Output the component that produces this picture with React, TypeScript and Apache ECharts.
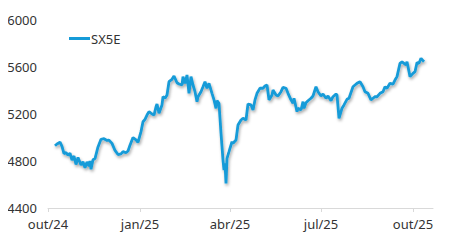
import React, { useEffect, useRef } from "react";
import * as echarts from "echarts";

// days since 2024-10-01
const dayOffsets = [
  7, 9, 12, 14, 16, 18, 20, 22, 24, 26, 28, 30, 33, 35, 37, 39, 41, 42, 43, 45, 47,
  50, 53, 56, 59, 61, 64, 67, 70, 73, 75, 78, 80, 82, 85, 88, 90, 93, 95, 97, 99,
  101, 104, 106, 108, 109, 111, 114, 115, 117, 119, 121, 124, 126, 129, 131, 134,
  135, 137, 139, 141, 143, 145, 147, 149, 150, 153, 155, 157, 159, 161, 164, 166,
  168, 169, 171, 173, 175, 176, 177, 178, 179, 181, 184, 185, 188, 190, 193, 195,
  198, 200, 203, 205, 207, 209, 212, 215, 217, 219, 221, 224, 225, 228, 230, 233,
  235, 238, 240, 243, 245, 246, 249, 250, 253, 255, 256, 258, 260, 263, 265, 268,
  270, 273, 275, 278, 280, 283, 285, 288, 289, 291, 294, 296, 299, 301, 305, 307,
  309, 312, 315, 317, 320, 323, 325, 327, 329, 332, 335, 337, 339, 342, 345, 347,
  349, 352, 354, 356, 358, 359, 362, 365, 367, 369, 371, 373, 375, 376,
];

const sx5eValues = [
  4930, 4945, 4960, 4925, 4862, 4872, 4850, 4866, 4808, 4843, 4770, 4830, 4765, 4794,
  4742, 4792, 4755, 4800, 4730, 4810, 4820, 4920, 4985, 4990, 4975, 4978, 4950, 4890,
  4855, 4860, 4880, 4870, 4885, 4935, 5000, 4980, 4958, 5050, 5134, 5155, 5191, 5220,
  5200, 5191, 5262, 5285, 5206, 5277, 5347, 5334, 5362, 5475, 5495, 5523, 5466, 5455,
  5447, 5518, 5461, 5532, 5376, 5518, 5447, 5390, 5305, 5347, 5390, 5432, 5475, 5419,
  5461, 5376, 5320, 5248, 5313, 5291, 5036, 4808, 4723, 4780, 4610, 4823, 4879, 4964,
  4951, 4979, 5106, 5149, 5163, 5149, 5285, 5277, 5234, 5320, 5376, 5419, 5419, 5438,
  5447, 5320, 5362, 5404, 5362, 5353, 5390, 5427, 5419, 5376, 5320, 5291, 5334, 5220,
  5249, 5234, 5305, 5249, 5296, 5313, 5334, 5353, 5432, 5390, 5353, 5370, 5334, 5353,
  5313, 5347, 5370, 5362, 5163, 5249, 5277, 5325, 5334, 5432, 5447, 5461, 5475, 5432,
  5390, 5376, 5320, 5334, 5347, 5347, 5376, 5390, 5432, 5419, 5461, 5455, 5489, 5518,
  5631, 5645, 5631, 5617, 5645, 5518, 5546, 5560, 5637, 5631, 5674, 5654, 5645,
];

const xTickDays = [0, 92, 182, 273, 365];
const xTickLabels = ["out/24", "jan/25", "abr/25", "jul/25", "out/25"];
const yTicks = [4400, 4800, 5200, 5600, 6000];

const FONT = "'Noto Sans', sans-serif";

export default function App() {
  const ref = useRef<HTMLDivElement>(null);
  useEffect(() => {
    if (!ref.current) return;
    const chart = echarts.init(ref.current, undefined, { renderer: "svg" });
    const data = dayOffsets.map((d, i) => [d, sx5eValues[i]]);
    chart.setOption({
      animation: false,
      textStyle: { fontFamily: FONT },
      grid: { left: 48, right: 17, top: 20, bottom: 33, containLabel: false },
      legend: {
        show: true,
        left: 64,
        top: 27,
        data: [{ name: "SX5E", icon: "rect" }],
        itemWidth: 21,
        itemHeight: 3,
        textStyle: { color: "#333", fontSize: 13, fontFamily: FONT, padding: [0, 0, 0, -4] },
      },
      xAxis: {
        type: "value",
        min: 0,
        max: 385,
        axisLine: { show: true, lineStyle: { color: "#d9d9d9", width: 1 } },
        axisTick: {
          show: true,
          length: 4,
          lineStyle: { color: "#d9d9d9" },
          customValues: xTickDays,
        },
        axisLabel: {
          show: true,
          color: "#333",
          fontSize: 13,
          fontFamily: FONT,
          margin: 9,
          customValues: xTickDays,
          formatter: (v: number) => {
            const idx = xTickDays.indexOf(Math.round(v));
            return idx >= 0 ? xTickLabels[idx] : "";
          },
        },
        splitLine: { show: false },
      },
      yAxis: {
        type: "value",
        min: yTicks[0],
        max: yTicks[yTicks.length - 1],
        interval: 400,
        axisLine: { show: false },
        axisTick: { show: false },
        splitLine: { show: false },
        axisLabel: {
          color: "#333",
          fontSize: 13,
          fontFamily: FONT,
          margin: 11,
          formatter: (v: number) => String(v),
        },
      },
      series: [
        {
          name: "SX5E",
          type: "line",
          data,
          showSymbol: false,
          symbol: "none",
          color: "#169bd8",
          lineStyle: {
            color: "#169bd8",
            width: 2.8,
            shadowColor: "rgba(0,0,0,0.35)",
            shadowBlur: 3,
            shadowOffsetX: 1,
            shadowOffsetY: 2,
          },
        },
      ],
    });
    return () => chart.dispose();
  }, []);
  return <div ref={ref} style={{ width: 450, height: 241, margin: -8 }} />;
}
